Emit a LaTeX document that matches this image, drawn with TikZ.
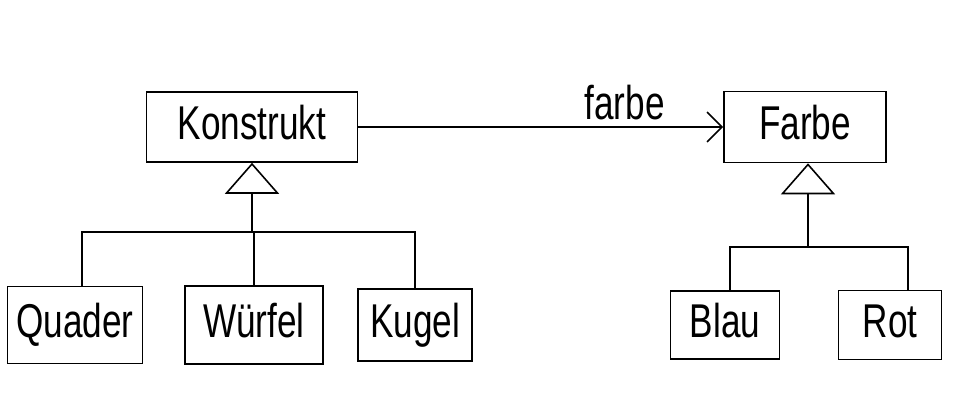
\documentclass[tikz,border=0pt]{standalone}
\usepackage{fontspec}
\setmainfont{Liberation Sans}
\usepackage{graphicx}
\usetikzlibrary{arrows.meta}

\begin{document}
\begin{tikzpicture}[x=0.02cm,y=-0.02cm,line width=0.9pt,
  schrift/.style={font=\fontsize{20}{24}\selectfont},
  klasse/.style={draw,inner sep=0pt,schrift,text height=0.6cm,text depth=0.12cm},
  erbt/.style={-{Triangle[open,length=0.62cm,width=1.08cm]}},
  assoc/.style={-{Straight Barb[length=0.3cm,width=0.6cm]}}]
\newcommand{\hand}[1]{\scalebox{1}[1.35]{#1}}
\useasboundingbox (0,0) rectangle (978,403);

% oberklassen
\node[klasse,minimum width=4.22cm,minimum height=1.4cm] (konstrukt) at (252,127) {\hand{Konstrukt}};
\node[klasse,minimum width=3.24cm,minimum height=1.42cm] (farbe) at (805,127) {\hand{Farbe}};

% assoziation
\draw[assoc] (konstrukt) -- node[pos=0.73,above,schrift] (farbelabel) {\hand{farbe}} (farbe);

% unterklassen:
  \foreach \name/\x/\w/\h/\txt in {quader/75/2.7/1.54/Quader, wuerfel/254/2.76/1.56/Würfel, kugel/415/2.28/1.44/Kugel,
                                    blau/725/2.18/1.36/Blau, rot/890/2.06/1.38/Rot} {
    \node[klasse,minimum width=\w cm,minimum height=\h cm] (\name) at (\x,325) {\hand{\txt}};
  }

% vererbung Konstrukt
\coordinate (kjunk) at (252,232);
\draw[erbt] (kjunk) -- (kjunk |- konstrukt.south);
\draw ([xshift=0.14cm]quader.north) |- (kjunk) -| (kugel.north);
\draw (wuerfel.north) -- (wuerfel.north |- kjunk);

% vererbung Farbe
\coordinate (fjunk) at (808,247);
\draw[erbt] (fjunk) -- (fjunk |- farbe.south);
\draw ([xshift=0.1cm]blau.north) |- (fjunk) -| ([xshift=0.36cm]rot.north);
\end{tikzpicture}
\end{document}
